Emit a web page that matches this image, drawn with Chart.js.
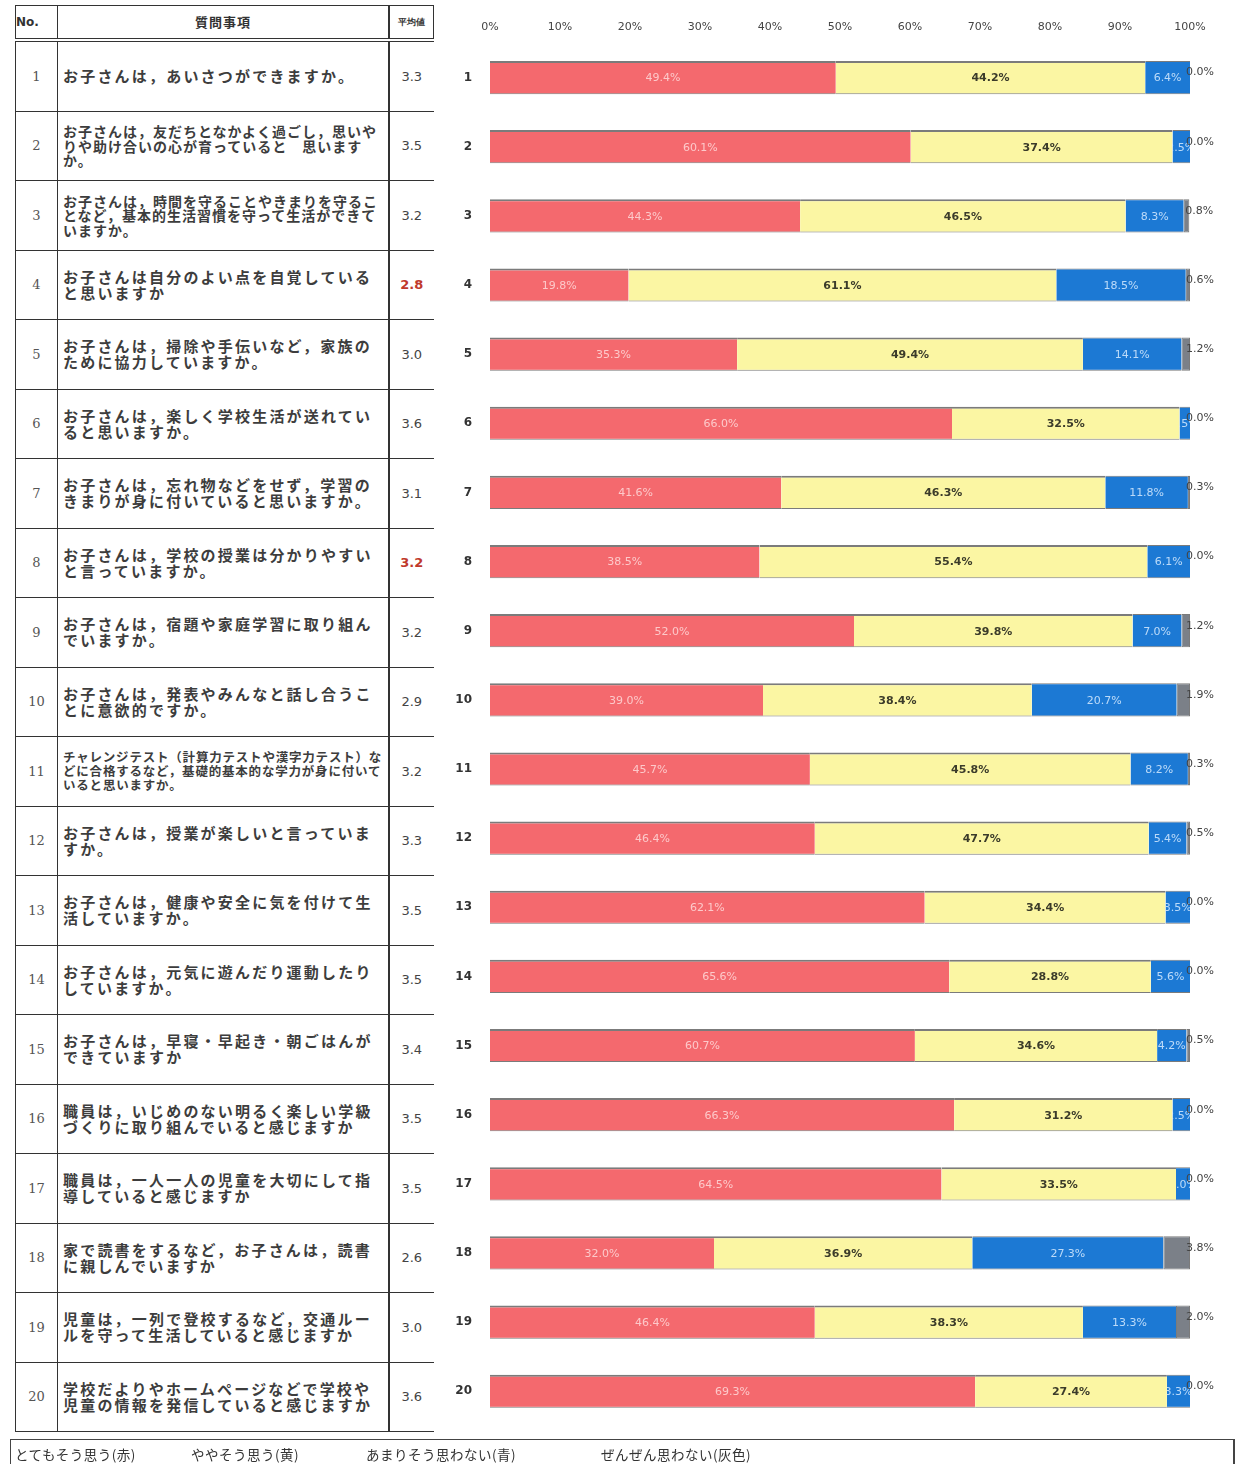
<!DOCTYPE html>
<html lang="ja">
<head>
<meta charset="utf-8">
<script src="https://cdn.jsdelivr.net/npm/chart.js@4.4.1/dist/chart.umd.min.js"></script>
<style>
  body { margin: 0; background: #fff; width: 1242px; height: 1464px; position: relative; overflow: hidden;
         font-family: "Noto Sans CJK JP", "Noto Sans", sans-serif; }
  #qtable { position: absolute; left: 15px; top: 5px; border-collapse: collapse; table-layout: fixed; }
  #qtable th, #qtable td { border: 1.5px solid #333; padding: 0; }
  #qtable th { height: 32px; font-size: 13px; font-weight: bold; color: #333; }
  #qtable thead tr { border-bottom: 4px double #333; }
  #qtable td { height: 68.5px; }
  .no { width: 41px; text-align: center; font-family: "DejaVu Serif", serif; font-size: 13px; color: #555; }
  .q { width: 320px; padding: 0 5px !important; font-size: 15px; font-weight: bold; color: #3d3d3d;
       letter-spacing: 2.2px; line-height: 16px; vertical-align: middle; border-right: 2.5px solid #333 !important; }
  .q.small { font-size: 14px; letter-spacing: 1px; line-height: 14.5px; }
  .q.tiny { font-size: 12.5px; letter-spacing: 0.8px; line-height: 14px; }
  .avg { width: 43px; text-align: center; font-family: "DejaVu Sans", sans-serif; font-size: 13px; color: #444;
         border-right: none !important; }
  .avg.mark { color: #c0392b; font-weight: bold; }
  #chartBox { position: absolute; left: 440px; top: 0; }
  #legend { position: absolute; left: 10px; top: 1439px; width: 1222px; height: 25px;
            border-top: 1.5px solid #444; border-left: 1.5px solid #444; border-right: 2px solid #444; }
  #legend span { position: absolute; top: 4px; font-size: 13.5px; color: #333; letter-spacing: 0.5px; }
</style>
</head>
<body>
<table id="qtable">
  <thead><tr><th class="no" style="text-align:left;font-family:'DejaVu Sans';font-size:12px;">No.</th><th class="q" style="text-align:center;letter-spacing:1px;font-size:13px;">質問事項</th><th class="avg" style="font-size:9px;border-right:1.5px solid #333 !important;">平均値</th></tr></thead>
  <tbody id="rows"></tbody>
</table>
<div id="chartBox"><canvas id="answers" width="802" height="1451"></canvas></div>
<div id="legend"></div>
<script>
// 質問番号
const categories = ['1','2','3','4','5','6','7','8','9','10','11','12','13','14','15','16','17','18','19','20'];

// 質問事項
const questions = [
  'お子さんは，あいさつができますか。',
  'お子さんは，友だちとなかよく過ごし，思いやりや助け合いの心が育っていると　思いますか。',
  'お子さんは，時間を守ることやきまりを守ることなど，基本的生活習慣を守って生活ができていますか。',
  'お子さんは自分のよい点を自覚していると思いますか',
  'お子さんは，掃除や手伝いなど，家族のために協力していますか。',
  'お子さんは，楽しく学校生活が送れていると思いますか。',
  'お子さんは，忘れ物などをせず，学習のきまりが身に付いていると思いますか。',
  'お子さんは，学校の授業は分かりやすいと言っていますか。',
  'お子さんは，宿題や家庭学習に取り組んでいますか。',
  'お子さんは，発表やみんなと話し合うことに意欲的ですか。',
  'チャレンジテスト（計算力テストや漢字力テスト）などに合格するなど，基礎的基本的な学力が身に付いていると思いますか。',
  'お子さんは，授業が楽しいと言っていますか。',
  'お子さんは，健康や安全に気を付けて生活していますか。',
  'お子さんは，元気に遊んだり運動したりしていますか。',
  'お子さんは，早寝・早起き・朝ごはんができていますか',
  '職員は，いじめのない明るく楽しい学級づくりに取り組んでいると感じますか',
  '職員は，一人一人の児童を大切にして指導していると感じますか',
  '家で読書をするなど，お子さんは，読書に親しんでいますか',
  '児童は，一列で登校するなど，交通ルールを守って生活していると感じますか',
  '学校だよりやホームページなどで学校や児童の情報を発信していると感じますか'
];

// 平均値
const averages = [3.3, 3.5, 3.2, 2.8, 3.0, 3.6, 3.1, 3.2, 3.2, 2.9, 3.2, 3.3, 3.5, 3.5, 3.4, 3.5, 3.5, 2.6, 3.0, 3.6];

// 回答の割合 (%)
const veryMuch  = [49.4, 60.1, 44.3, 19.8, 35.3, 66.0, 41.6, 38.5, 52.0, 39.0, 45.7, 46.4, 62.1, 65.6, 60.7, 66.3, 64.5, 32.0, 46.4, 69.3];
const somewhat  = [44.2, 37.4, 46.5, 61.1, 49.4, 32.5, 46.3, 55.4, 39.8, 38.4, 45.8, 47.7, 34.4, 28.8, 34.6, 31.2, 33.5, 36.9, 38.3, 27.4];
const notMuch   = [6.4, 2.5, 8.3, 18.5, 14.1, 1.5, 11.8, 6.1, 7.0, 20.7, 8.2, 5.4, 3.5, 5.6, 4.2, 2.5, 2.0, 27.3, 13.3, 3.3];
const notAtAll  = [0.0, 0.0, 0.8, 0.6, 1.2, 0.0, 0.3, 0.0, 1.2, 1.9, 0.3, 0.5, 0.0, 0.0, 0.5, 0.0, 0.0, 3.8, 2.0, 0.0];

const xTicks = [0, 10, 20, 30, 40, 50, 60, 70, 80, 90, 100];

const legendLabels = ['とてもそう思う(赤)', 'ややそう思う(黄)', 'あまりそう思わない(青)', 'ぜんぜん思わない(灰色)'];

// 表を作る
const tbody = document.getElementById('rows');
questions.forEach((q, i) => {
  const tr = document.createElement('tr');
  let cls = 'q';
  if (i === 1 || i === 2) cls += ' small';
  if (i === 10) cls += ' tiny';
  const avgCls = (i === 3 || i === 7) ? 'avg mark' : 'avg';
  tr.innerHTML = '<td class="no">' + categories[i] + '</td><td class="' + cls + '">' + q +
                 '</td><td class="' + avgCls + '">' + averages[i].toFixed(1) + '</td>';
  tbody.appendChild(tr);
});

// 凡例
const legend = document.getElementById('legend');
const legendX = [4, 180, 355, 590];
legendLabels.forEach((t, i) => {
  const s = document.createElement('span');
  s.textContent = t;
  s.style.left = legendX[i] + 'px';
  legend.appendChild(s);
});

// バーの上に割合を書く
const barLabels = {
  id: 'barLabels',
  afterDatasetsDraw(chart) {
    const ctx = chart.ctx;
    const colors = ['rgba(255,225,225,0.8)', '#3b3b2a', 'rgba(215,235,255,0.85)', '#444'];
    chart.data.datasets.forEach((ds, di) => {
      const meta = chart.getDatasetMeta(di);
      meta.data.forEach((bar, i) => {
        const v = ds.data[i];
        const left = Math.min(bar.base, bar.x);
        const right = Math.max(bar.base, bar.x);
        const top = bar.y - bar.height / 2;
        const text = v.toFixed(1) + '%';
        ctx.save();
        ctx.font = (di === 1 ? 'bold ' : '') + '11px "DejaVu Sans"';
        ctx.fillStyle = colors[di];
        ctx.textBaseline = 'middle';
        if (di === 3) {
          ctx.textAlign = 'left';
          ctx.fillText(text, right - 4, bar.y - 5);
        } else {
          ctx.beginPath();
          ctx.rect(left, top, right - left, bar.height);
          ctx.clip();
          ctx.textAlign = 'center';
          ctx.fillText(text, (left + right) / 2, bar.y + 1);
        }
        ctx.restore();
      });
    });
  }
};

const border = 'rgba(90,90,90,0.8)';
new Chart(document.getElementById('answers').getContext('2d'), {
  type: 'bar',
  data: {
    labels: categories,
    datasets: [
      { label: legendLabels[0], data: veryMuch, backgroundColor: '#f4696e', borderColor: border, borderWidth: { top: 2, bottom: 1 } },
      { label: legendLabels[1], data: somewhat, backgroundColor: '#fbf6a3', borderColor: border, borderWidth: { top: 2, bottom: 1 } },
      { label: legendLabels[2], data: notMuch, backgroundColor: '#1c79d4', borderColor: border, borderWidth: { top: 1, bottom: 1 } },
      { label: legendLabels[3], data: notAtAll, backgroundColor: '#7b8088', borderColor: border, borderWidth: 1 }
    ]
  },
  options: {
    indexAxis: 'y',
    responsive: false,
    animation: false,
    layout: { padding: { top: 0, right: 52, bottom: 3, left: 0 } },
    datasets: { bar: { categoryPercentage: 1, barPercentage: 0.48, borderSkipped: false } },
    plugins: { legend: { display: false }, tooltip: { enabled: false } },
    scales: {
      x: {
        position: 'top',
        stacked: true,
        min: 0,
        max: 100,
        afterFit(scale) { scale.height = 43; },
        afterBuildTicks(scale) { scale.ticks = xTicks.map(v => ({ value: v })); },
        grid: { display: false, drawTicks: false },
        border: { display: false },
        ticks: { padding: 9, color: '#444', font: { family: 'DejaVu Sans', size: 11 }, callback: v => v + '%' }
      },
      y: {
        stacked: true,
        afterFit(scale) { scale.width = 50; },
        grid: { display: false, drawTicks: false },
        border: { display: false },
        ticks: { padding: 18, color: '#333', font: { family: 'DejaVu Sans', size: 12, weight: 'bold' } }
      }
    }
  },
  plugins: [barLabels]
});
</script>
</body>
</html>
